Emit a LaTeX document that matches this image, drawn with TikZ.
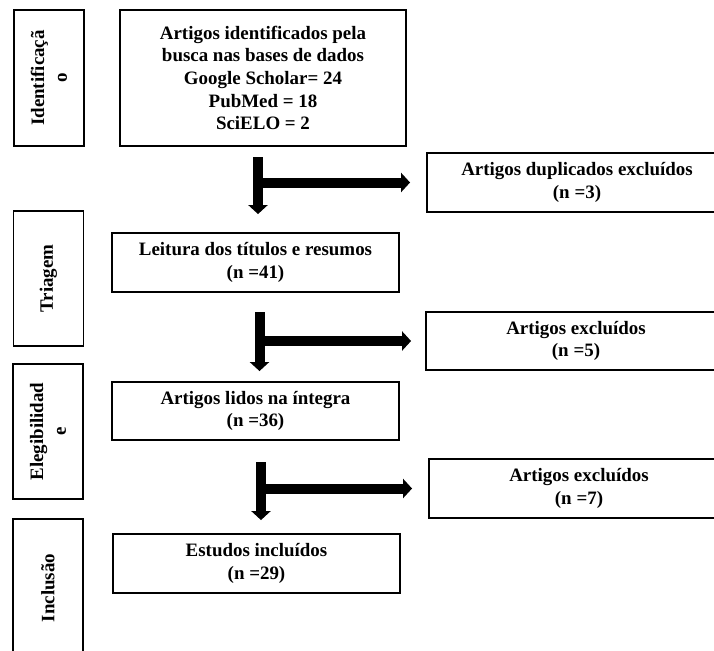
\documentclass[tikz,border=0pt]{standalone}
\usepackage{fontspec}
\setmainfont{Liberation Serif}
\usetikzlibrary{arrows.meta}

\begin{document}
\begin{tikzpicture}[x=0.75pt, y=-0.75pt,
		font=\fontsize{14.2}{17}\selectfont\bfseries,
		caixa/.style={draw, line width=1.4pt, align=center, inner sep=0pt},
		etapa/.style={caixa, rotate=90, minimum height=52.5pt},
		seta/.style={line width=7.5pt, -{Triangle[width=14.25pt,length=6.75pt]}}]
		\useasboundingbox (0,0) rectangle (714,650);
		\clip (0,0) rectangle (714,650);
		\node [etapa, minimum width=102pt] (e1) at (49,78) {Identificaçã\\o};
		\node [etapa, minimum width=101.25pt] (e2) at (48.5,278.5) {Triagem};
		\node [etapa, minimum width=101.25pt] (e3) at (48,431.5) {Elegibilidad\\e};
		\node [etapa, minimum width=103.5pt] (e4) at (48,588) {Inclusão};
		\node [caixa, minimum width=214.5pt, minimum height=102pt] (b1) at (263,78) {Artigos identificados pela\\busca nas bases de dados\\Google Scholar= 24\\PubMed = 18\\SciELO = 2};
		\node [caixa, minimum width=215.25pt, minimum height=44.25pt] (b2) at (255.5,262.5) {Leitura dos títulos e resumos\\(n =41)};
		\node [caixa, minimum width=215.25pt, minimum height=43.5pt] (b3) at (255.5,411) {Artigos lidos na íntegra\\(n =36)};
		\node [caixa, minimum width=215.25pt, minimum height=44.25pt] (b4) at (256.5,563.5) {Estudos incluídos\\(n =29)};
		\node [caixa, minimum width=225pt, minimum height=44.25pt] (r1) at (577,182.5) {Artigos duplicados excluídos\\(n =3)};
		\node [caixa, minimum width=225pt, minimum height=43.5pt] (r2) at (576,341) {Artigos excluídos\\(n =5)};
		\node [caixa, minimum width=225pt, minimum height=44.25pt] (r3) at (579,488.5) {Artigos excluídos\\(n =7)};
		\coordinate (s1) at (258,157);
		\coordinate (s2) at (259.5,312);
		\coordinate (s3) at (261,462);
		\draw[seta, shorten >=13.5pt] (s1) -- (s1 |- b2.north);
		\draw[seta, shorten >=12pt] (s1 |- r1.west) -- (r1.west);
		\draw[seta, shorten >=7.5pt] (s2) -- (s2 |- b3.north);
		\draw[seta, shorten >=10.5pt] (s2 |- r2.west) -- (r2.west);
		\draw[seta, shorten >=9.75pt] (s3) -- (s3 |- b4.north);
		\draw[seta, shorten >=12pt] (s3 |- r3.west) -- (r3.west);
\end{tikzpicture}
\end{document}
